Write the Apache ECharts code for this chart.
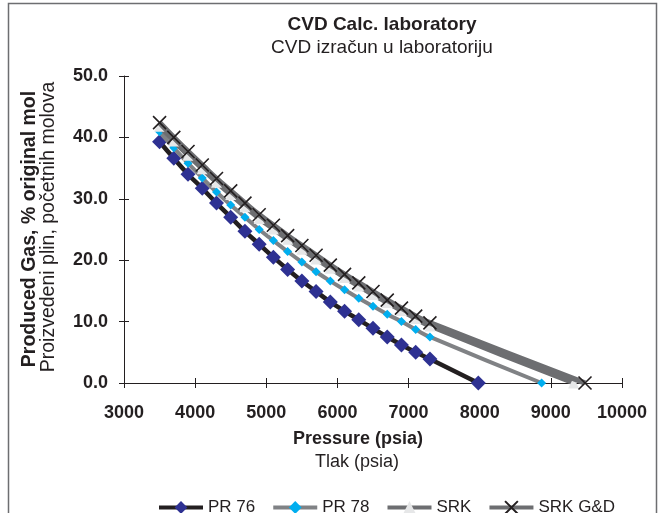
<!DOCTYPE html>
<html>
<head>
<meta charset="utf-8">
<script src="https://cdn.jsdelivr.net/npm/echarts@6/dist/echarts.min.js"></script>
<style>
html,body{margin:0;padding:0;background:#fff;}
#chart{width:660px;height:513px;}
</style>
</head>
<body>
<div id="chart"></div>
<script>
// ---- Data ----
const titleMain = 'CVD Calc. laboratory';
const titleSub = 'CVD izračun u laboratoriju';
const yNameMain = 'Produced Gas, % original mol';
const yNameSub = 'Proizvedeni plin, početnih molova';
const xNameMain = 'Pressure (psia)';
const xNameSub = 'Tlak (psia)';
const seriesNames = ['PR 76', 'PR 78', 'SRK', 'SRK G&D'];

const pressure = [3500, 3700, 3900, 4100, 4300, 4500, 4700, 4900, 5100, 5300,
                  5500, 5700, 5900, 6100, 6300, 6500, 6700, 6900, 7100, 7300];

const pr76 = [39.3, 36.6, 34.0, 31.7, 29.3, 27.0, 24.7, 22.6, 20.5, 18.5,
              16.6, 14.9, 13.2, 11.7, 10.3, 8.9, 7.5, 6.2, 5.0, 3.9];
const pr78 = [40.9, 38.3, 35.8, 33.4, 31.1, 29.0, 27.0, 25.0, 23.2, 21.4,
              19.7, 18.1, 16.6, 15.2, 13.8, 12.5, 11.2, 10.0, 8.7, 7.5];
const srk = [41.8, 39.4, 37.1, 34.9, 32.7, 30.7, 28.7, 26.8, 25.1, 23.4,
             21.8, 20.2, 18.7, 17.2, 15.8, 14.4, 13.1, 11.8, 10.5, 9.3];
const srkGD = [42.4, 40.0, 37.7, 35.5, 33.3, 31.3, 29.3, 27.4, 25.7, 24.0,
               22.4, 20.8, 19.2, 17.7, 16.3, 14.9, 13.5, 12.2, 10.9, 9.8];

// dew-point end points (pressure, produced gas)
const pr76End = [7980, 0];
const pr78End = [8870, 0];
const srkEnd = [9320, 0];
const srkGDEnd = [9480, 0];

const xTicks = {min: 3000, max: 10000, interval: 1000};
const yTicks = {min: 0, max: 50, interval: 10};

// ---- Build ----
function pts(ys, end) {
  const out = pressure.map((p, i) => [p, ys[i]]);
  out.push(end);
  return out;
}

const FONT = 'Liberation Sans, Arial, sans-serif';
const chart = echarts.init(document.getElementById('chart'), null, {renderer: 'canvas'});

const crossPath = 'path://M0,0L10,10M10,0L0,10';
const INK = '#231f20';

const option = {
  animation: false,
  backgroundColor: '#ffffff',
  title: {
    text: titleMain,
    subtext: titleSub,
    left: 377, top: 10, textAlign: 'center',
    itemGap: 4,
    textStyle: {fontFamily: FONT, fontSize: 19, fontWeight: 'bold', color: INK},
    subtextStyle: {fontFamily: FONT, fontSize: 19, color: INK}
  },
  grid: {left: 124, right: 38, top: 76, bottom: 130, containLabel: false},
  legend: {
    data: seriesNames,
    left: 152, top: 494,
    itemWidth: 44, itemHeight: 16, itemGap: 16,
    lineStyle: {width: 4},
    textStyle: {fontFamily: FONT, fontSize: 17, color: INK}
  },
  xAxis: [{
    type: 'value', min: xTicks.min, max: xTicks.max, interval: xTicks.interval,
    position: 'bottom',
    axisLine: {onZero: false, lineStyle: {color: INK, width: 1}},
    axisTick: {show: true, length: 5, lineStyle: {color: INK}},
    splitLine: {show: false},
    axisLabel: {margin: 21, fontFamily: FONT, fontSize: 18, fontWeight: 'bold', color: INK,
                formatter: v => String(v)}
  }, {
    type: 'value', min: xTicks.min, max: xTicks.max, interval: xTicks.interval,
    position: 'bottom',
    axisLine: {show: false},
    axisTick: {show: true, inside: true, length: 5, lineStyle: {color: INK}},
    splitLine: {show: false},
    axisLabel: {show: false}
  }],
  yAxis: [{
    type: 'value', min: yTicks.min, max: yTicks.max, interval: yTicks.interval,
    position: 'left',
    axisLine: {show: true, onZero: false, lineStyle: {color: INK, width: 1}},
    axisTick: {show: true, length: 5, lineStyle: {color: INK}},
    splitLine: {show: false},
    axisLabel: {margin: 16, fontFamily: FONT, fontSize: 18, fontWeight: 'bold', color: INK,
                formatter: v => v.toFixed(1)}
  }, {
    type: 'value', min: yTicks.min, max: yTicks.max, interval: yTicks.interval,
    position: 'left',
    axisLine: {show: false},
    axisTick: {show: true, inside: true, length: 5, lineStyle: {color: INK}},
    splitLine: {show: false},
    axisLabel: {show: false}
  }],
  graphic: [
    {type: 'rect', silent: true, z: -1,
     shape: {x: 8.5, y: 3.5, width: 648, height: 530},
     style: {fill: 'none', stroke: '#6d6e71', lineWidth: 1.5}},
    {type: 'text', x: 30, y: 229, rotation: Math.PI / 2,
     style: {text: yNameMain, fontFamily: FONT, fontSize: 19.5, fontWeight: 'bold', fill: INK,
             textAlign: 'center', textVerticalAlign: 'middle'}},
    {type: 'text', x: 49, y: 227, rotation: Math.PI / 2,
     style: {text: yNameSub, fontFamily: FONT, fontSize: 19.5, fill: INK,
             textAlign: 'center', textVerticalAlign: 'middle'}},
    {type: 'text', x: 358, y: 439,
     style: {text: xNameMain, fontFamily: FONT, fontSize: 18, fontWeight: 'bold', fill: INK,
             textAlign: 'center', textVerticalAlign: 'middle'}},
    {type: 'text', x: 357, y: 462,
     style: {text: xNameSub, fontFamily: FONT, fontSize: 18, fill: INK,
             textAlign: 'center', textVerticalAlign: 'middle'}}
  ],
  series: [
    {name: seriesNames[0], type: 'line', smooth: 0.5, showAllSymbol: true, z: 2,
     data: pts(pr76, pr76End),
     symbol: 'diamond', symbolSize: 15,
     itemStyle: {color: '#2e3192'},
     lineStyle: {color: INK, width: 4.5}},
    {name: seriesNames[1], type: 'line', smooth: 0.5, showAllSymbol: true, z: 3,
     data: pts(pr78, pr78End),
     symbol: 'diamond', symbolSize: 9,
     itemStyle: {color: '#00aeef'},
     lineStyle: {color: '#808285', width: 4}},
    {name: seriesNames[2], type: 'line', smooth: 0.5, showAllSymbol: true, z: 4,
     data: pts(srk, srkEnd),
     symbol: 'triangle', symbolSize: 11,
     itemStyle: {color: '#e6e7e8'},
     lineStyle: {color: '#6d6e71', width: 5}},
    {name: seriesNames[3], type: 'line', smooth: 0.5, showAllSymbol: true, z: 5,
     data: pts(srkGD, srkGDEnd),
     symbol: crossPath, symbolSize: 13,
     itemStyle: {color: 'rgba(0,0,0,0)', borderColor: INK, borderWidth: 1.6},
     lineStyle: {color: '#6d6e71', width: 5.5}}
  ]
};
chart.setOption(option);
</script>
</body>
</html>
